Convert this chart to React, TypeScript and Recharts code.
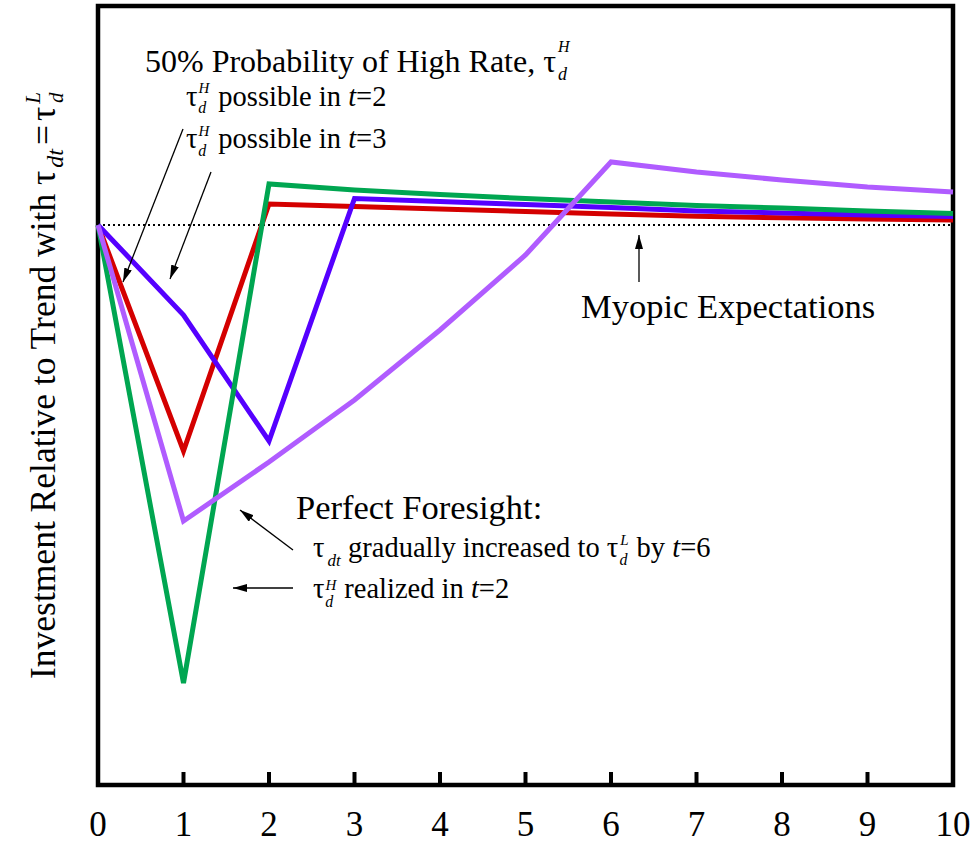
import { Line, LineChart, ReferenceArea, ReferenceLine, XAxis, YAxis } from "recharts";

// time periods on the x axis
const periods = [0, 1, 2, 3, 4, 5, 6, 7, 8, 9, 10];

// investment relative to trend (arbitrary units, 0 = myopic path)
const possibleInT2 = [0, -22.6, 2.1, 1.85, 1.6, 1.35, 1.1, 0.87, 0.72, 0.6, 0.5];
const possibleInT3 = [0, -9.0, -21.6, 2.65, 2.35, 2.05, 1.75, 1.4, 1.2, 1.0, 0.85];
const realizedInT2 = [0, -45.8, 4.1, 3.5, 3.05, 2.65, 2.3, 1.95, 1.7, 1.4, 1.15];
const gradualToT6 = [0, -29.6, -23.7, -17.5, -10.5, -3.0, 6.3, 5.3, 4.5, 3.8, 3.3];

const myopicLevel = 0;
const xTicks = [0, 1, 2, 3, 4, 5, 6, 7, 8, 9, 10];
const yDomain: [number, number] = [-56, 21.9];

const chartData = periods.map((t, i) => ({
  t,
  possibleInT2: possibleInT2[i],
  possibleInT3: possibleInT3[i],
  realizedInT2: realizedInT2[i],
  gradualToT6: gradualToT6[i],
}));

const FONT = "'Liberation Serif', 'Times New Roman', serif";

function XTick(props: any) {
  const { x, y, payload } = props;
  return (
    <g>
      <line x1={x} x2={x} y1={y} y2={y - 13} stroke="#000" strokeWidth={4} />
      <text x={x} y={y + 51} textAnchor="middle" fontSize={35} fontFamily={FONT} fill="#000">
        {payload.value}
      </text>
    </g>
  );
}

function Notes() {
  const t = { fontFamily: FONT, fill: "#000" };
  const arrow = { stroke: "#000", strokeWidth: 1.3, markerEnd: "url(#head)" };
  return (
    <svg
      width={976}
      height={846}
      style={{ position: "absolute", left: 0, top: 0, pointerEvents: "none" }}
    >
      <defs>
        <marker id="head" viewBox="0 0 14 8" refX={14} refY={4} markerWidth={14} markerHeight={8}
          markerUnits="userSpaceOnUse" orient="auto">
          <path d="M0,0 L14,4 L0,8 z" fill="#000" />
        </marker>
      </defs>

      {/* title */}
      <text x={145} y={72} fontSize={32} {...t}>
        50% Probability of High Rate, τ
        <tspan fontSize={16} fontStyle="italic" dx={2} dy={-20}>H</tspan>
        <tspan fontSize={18} fontStyle="italic" dx={-11.5} dy={28}>d</tspan>
      </text>

      <text x={186} y={106} fontSize={28.5} {...t}>
        τ
        <tspan fontSize={15} fontStyle="italic" dx={1} dy={-13}>H</tspan>
        <tspan fontSize={16} fontStyle="italic" dx={-11} dy={20}>d</tspan>
        <tspan dx={12} dy={-7}>possible in </tspan>
        <tspan fontStyle="italic">t</tspan>=2
      </text>

      <text x={186} y={148} fontSize={28.5} {...t}>
        τ
        <tspan fontSize={15} fontStyle="italic" dx={1} dy={-12}>H</tspan>
        <tspan fontSize={16} fontStyle="italic" dx={-11} dy={20}>d</tspan>
        <tspan dx={12} dy={-8}>possible in </tspan>
        <tspan fontStyle="italic">t</tspan>=3
      </text>

      <line x1={183} y1={129} x2={123} y2={282} {...arrow} />
      <line x1={211} y1={172} x2={170} y2={279} {...arrow} />

      {/* myopic */}
      <line x1={639} y1={282} x2={639} y2={235} {...arrow} />
      <text x={581} y={318} fontSize={34.5} {...t}>Myopic Expectations</text>

      {/* perfect foresight */}
      <text x={296} y={519} fontSize={34.5} {...t}>Perfect Foresight:</text>
      <text x={313} y={557} fontSize={28.5} {...t}>
        τ
        <tspan fontSize={17} fontStyle="italic" dx={3} dy={9}>dt</tspan>
      </text>
      <text x={348} y={557} fontSize={28.5} {...t}>
        gradually increased to τ
        <tspan fontSize={15} fontStyle="italic" dx={2} dy={-12}>L</tspan>
        <tspan fontSize={16} fontStyle="italic" dx={-9} dy={20}>d</tspan>
        <tspan dx={9} dy={-8}>by </tspan>
        <tspan fontStyle="italic">t</tspan>=6
      </text>

      <text x={313} y={598} fontSize={28.5} {...t}>
        τ
        <tspan fontSize={15} fontStyle="italic" dx={1} dy={-8}>H</tspan>
        <tspan fontSize={16} fontStyle="italic" dx={-11} dy={17}>d</tspan>
        <tspan dx={11} dy={-9}>realized in </tspan>
        <tspan fontStyle="italic">t</tspan>=2
      </text>

      <line x1={293} y1={550} x2={240} y2={510} {...arrow} />
      <line x1={293} y1={588} x2={233} y2={588} {...arrow} />

      {/* y axis label */}
      <g transform="translate(55,679) rotate(-90)">
        <text x={0} y={0} fontSize={35.5} {...t}>
          Investment Relative to Trend with τ
          <tspan fontSize={24} fontStyle="italic" dx={3} dy={8}>dt</tspan>
          <tspan fontSize={35.5} dx={4} dy={-8}>=</tspan>
          <tspan fontSize={35.5} dx={4}>τ</tspan>
          <tspan fontSize={21} fontStyle="italic" dx={3} dy={-15}>L</tspan>
          <tspan fontSize={21} fontStyle="italic" dx={-11} dy={23}>d</tspan>
        </text>
      </g>
    </svg>
  );
}

export default function App() {
  return (
    <div style={{ position: "relative", width: 976, height: 846, background: "#fff" }}>
      <style>{`body { margin: 0; }`}</style>
      <LineChart
        width={976}
        height={846}
        data={chartData}
        margin={{ top: 6, right: 23, bottom: 0, left: 98 }}
      >
        <XAxis
          dataKey="t"
          type="number"
          domain={[0, 10]}
          ticks={xTicks}
          interval={0}
          height={61}
          axisLine={false}
          tickLine={false}
          tickSize={0}
          tickMargin={0}
          tick={XTick}
        />
        <YAxis hide type="number" domain={yDomain} allowDataOverflow />
        <ReferenceLine y={myopicLevel} stroke="#000" strokeWidth={2} strokeDasharray="2 3" />
        <Line dataKey="possibleInT2" stroke="#d40000" strokeWidth={5} dot={false} isAnimationActive={false} strokeLinejoin="miter" />
        <Line dataKey="possibleInT3" stroke="#5500ff" strokeWidth={5} dot={false} isAnimationActive={false} strokeLinejoin="miter" />
        <Line dataKey="realizedInT2" stroke="#00a651" strokeWidth={5} dot={false} isAnimationActive={false} strokeLinejoin="miter" />
        <Line dataKey="gradualToT6" stroke="#b05cff" strokeWidth={5} dot={false} isAnimationActive={false} strokeLinejoin="miter" />
        <ReferenceArea x1={0} x2={10} y1={yDomain[0]} y2={yDomain[1]} fill="none" fillOpacity={0} stroke="#000" strokeWidth={4.5} ifOverflow="visible" />
      </LineChart>
      <Notes />
    </div>
  );
}
